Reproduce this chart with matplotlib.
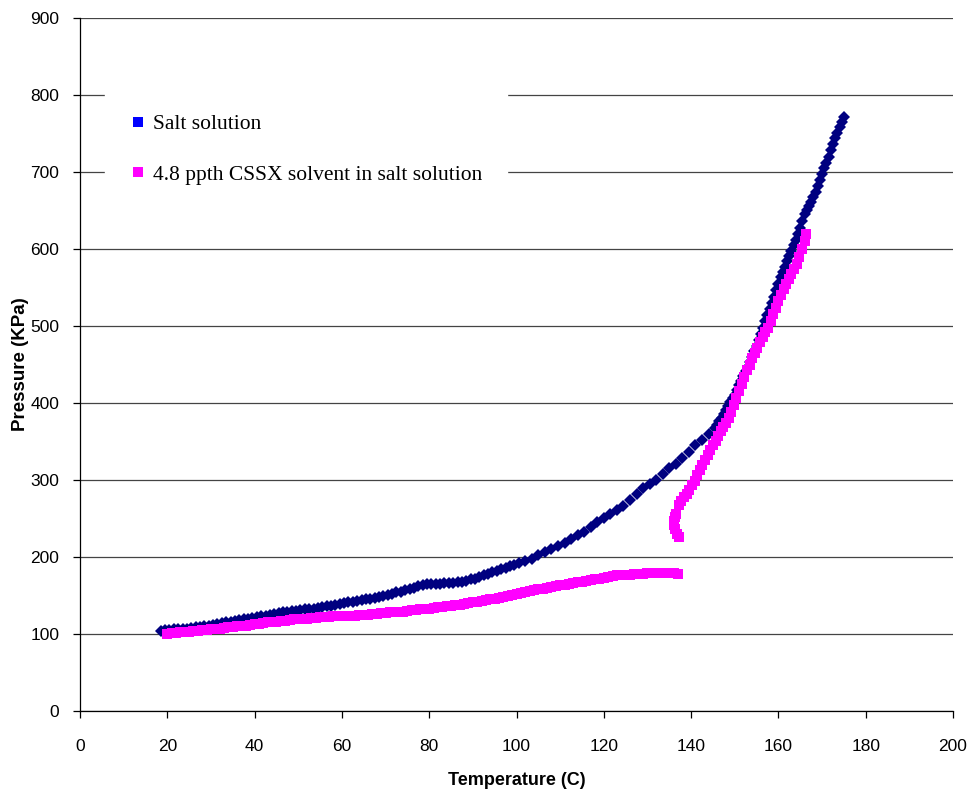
import matplotlib
matplotlib.use("Agg")
import matplotlib.pyplot as plt
from matplotlib.lines import Line2D

# ---- data ----
salt_T = [18.5, 19.5, 20.5, 21.5, 22.5, 23.5, 24.5, 25.5, 26.5, 27.5, 28.5, 29.5,
          30.5, 31.5, 32.5, 33.5, 34.5, 35.5, 36.5, 37.5, 38.5, 39.5, 40.5, 41.5,
          42.5, 43.5, 44.5, 45.5, 46.5, 47.5, 48.5, 49.5, 50.5, 51.5, 52.5, 53.5,
          54.5, 55.5, 56.5, 57.5, 58.5, 59.5, 60.5, 61.5, 62.5, 63.5, 64.5, 65.5,
          66.5, 67.5, 68.5, 69.5, 70.5, 71.5, 72.5, 73.5, 74.5, 75.5, 76.5, 77.5,
          78.5, 79.5, 80.5, 81.5, 82.5, 83.5, 84.5, 85.5, 86.5, 87.5, 88.5, 89.5,
          90.5, 91.5, 92.5, 93.5, 94.5, 95.5, 96.5, 97.5, 98.5, 99.5,
          100.5, 102, 103.5, 105, 106.5, 108, 109.5, 111, 112.5, 114, 115.5, 117,
          118.5, 120, 121.5, 123, 124.5, 126, 127.5, 129, 130.5, 132, 133.5, 135,
          136.5, 138, 139.5, 141, 142.5, 144, 145.5,
          146, 146.5, 147, 147.5, 148, 148.5, 149, 149.5, 150, 150.5, 151, 151.5,
          152, 152.5, 153, 153.5, 154, 154.5, 155, 155.5, 156, 156.5, 157, 157.5,
          158, 158.5, 159, 159.5, 160, 160.5, 161, 161.5, 162, 162.5, 163, 163.5,
          164, 164.5, 165, 165.5, 166, 166.5, 167, 167.5, 168, 168.5, 169, 169.5,
          170, 170.5, 171, 171.5, 172, 172.5, 173, 173.5, 174, 174.5, 175]
salt_P = [104, 105, 105, 106, 106, 107, 107, 108, 109, 109, 110, 111,
          112, 113, 114, 115, 116, 117, 118, 119, 120, 121, 122, 123,
          124, 125, 126, 127, 128, 129, 130, 130, 131, 132, 133, 133,
          134, 135, 136, 137, 138, 139, 140, 141, 142, 143, 144, 145,
          146, 147, 148, 150, 151, 152, 154, 155, 157, 158, 160, 162,
          164, 165, 165, 165, 165, 166, 166, 166, 167, 168, 169, 171,
          172, 174, 176, 178, 180, 182, 184, 186, 188, 190,
          192, 195, 198, 202, 206, 210, 214, 218, 223, 228, 233, 239,
          245, 251, 256, 261, 266, 274, 282, 290, 295, 300, 308, 316,
          321, 328, 337, 345, 352, 360, 368,
          372, 376, 381, 386, 391, 396, 401, 406, 411, 417, 423, 429,
          435, 441, 447, 453, 460, 467, 474, 482, 490, 498, 506, 514,
          522, 530, 538, 547, 555, 563, 570, 577, 584, 591, 598, 605,
          612, 619, 627, 636, 645, 651, 656, 661, 667, 674, 682, 690,
          698, 705, 712, 720, 728, 736, 744, 751, 758, 765, 771]

cssx_T = [20, 21, 22, 23, 24, 25, 26, 27, 28, 29, 30, 31, 32, 33, 34, 35, 36, 37,
          38, 39, 40, 41, 42, 43, 44, 45, 46, 47, 48, 49, 50, 51, 52, 53, 54, 55,
          56, 57, 58, 59, 60, 61, 62, 63, 64, 65, 66, 67, 68, 69, 70, 71, 72, 73,
          74, 75, 76, 77, 78, 79, 80, 81, 82, 83, 84, 85, 86, 87, 88, 89, 90, 91,
          92, 93, 94, 95, 96, 97, 98, 99, 100, 101, 102, 103, 104, 105, 106, 107,
          108, 109, 110, 111, 112, 113, 114, 115, 116, 117, 118, 119, 120, 121,
          122, 123, 124, 125, 126, 127, 128, 129, 130, 131, 132, 133, 134, 135,
          136, 137,
          137.2, 136.8, 136.4, 136.1, 136.0, 136.2, 136.5, 137.3, 137.8, 138.4,
          139.0, 139.6, 140.2, 140.8, 141.4, 142.0, 142.6, 143.2, 143.8, 144.4,
          145.0, 145.6, 146.2, 146.8, 147.4, 148.0, 148.6, 149.2, 149.8, 150.4,
          151.0, 151.6, 152.2, 152.8, 153.4, 154.0, 154.6, 155.2, 155.8, 156.4,
          157.0, 157.6, 158.2, 158.8, 159.4, 160.0, 160.6, 161.2, 161.8, 162.4,
          163.0, 163.6, 164.2, 164.8, 165.4, 166.0, 166.3]
cssx_P = [100, 101, 101, 102, 102, 103, 104, 104, 105, 105, 106, 107, 107, 108,
          109, 109, 110, 111, 111, 112, 113, 113, 114, 115, 115, 116, 117, 117,
          118, 119, 119, 120, 120, 121, 121, 122, 122, 122, 123, 123, 123, 124,
          124, 124, 125, 125, 125, 126, 126, 127, 127, 128, 128, 129, 129, 130,
          131, 131, 132, 133, 133, 134, 135, 135, 136, 137, 138, 138, 139, 140,
          141, 142, 143, 144, 145, 146, 147, 148, 149, 151, 152, 153, 155, 156,
          157, 158, 159, 160, 161, 162, 163, 164, 165, 166, 167, 168, 169, 170,
          171, 172, 173, 174, 175, 176, 176, 177, 177, 178, 178, 178, 179, 179,
          179, 179, 179, 179, 179, 178,
          226, 230, 236, 242, 247, 252, 256, 268, 273, 278,
          282, 287, 293, 299, 306, 313, 320, 326, 333, 339,
          345, 351, 357, 363, 369, 374, 380, 388, 398, 407,
          416, 425, 434, 443, 450, 458, 465, 472, 479, 486,
          492, 498, 506, 515, 524, 533, 540, 548, 555, 561,
          567, 574, 581, 590, 600, 610, 619]

series_labels = ["Salt solution", "4.8 ppth CSSX solvent in salt solution"]
x_ticks = [0, 20, 40, 60, 80, 100, 120, 140, 160, 180, 200]
y_ticks = [0, 100, 200, 300, 400, 500, 600, 700, 800, 900]

# ---- figure ----
fig = plt.figure(figsize=(9.69, 7.91), dpi=100)
ax = fig.add_axes([80 / 969, 80 / 791, 873 / 969, 693 / 791])

ax.plot(salt_T, salt_P, linestyle="none", marker="D", markersize=6.3,
        color="#000080", markeredgewidth=0, zorder=3)
ax.plot(cssx_T, cssx_P, linestyle="none", marker="s", markersize=7.4,
        color="#FF00FF", markeredgewidth=0, zorder=4)

ax.set_xlim(0, 200)
ax.set_ylim(0, 900)
ax.set_xticks(x_ticks)
ax.set_yticks(y_ticks)
ax.yaxis.grid(True, color="#444444", linewidth=0.9)
ax.set_axisbelow(True)
for s in ("top", "right"):
    ax.spines[s].set_visible(False)
for s in ("left", "bottom"):
    ax.spines[s].set_color("black")
    ax.spines[s].set_linewidth(0.9)

ax.tick_params(axis="both", direction="out", length=5, width=0.9,
               labelsize=12.5, colors="black")
ax.tick_params(axis="x", pad=15)
ax.tick_params(axis="y", pad=10)
for lab in ax.get_xticklabels() + ax.get_yticklabels():
    lab.set_family("Liberation Sans")

ax.set_xlabel("Temperature (C)", family="Liberation Sans", fontsize=13,
              fontweight="bold", labelpad=13)
ax.set_ylabel("Pressure (KPa)", family="Liberation Sans", fontsize=13.5,
              fontweight="bold", labelpad=1)

handles = [Line2D([], [], linestyle="none", marker="s", markersize=7.5,
                  color="#0000FF", markeredgewidth=0),
           Line2D([], [], linestyle="none", marker="s", markersize=7.5,
                  color="#FF00FF", markeredgewidth=0)]
leg = ax.legend(handles, series_labels, loc="upper left",
                bbox_to_anchor=(0.0286, 0.897), frameon=True, fancybox=False,
                prop={"family": "Liberation Serif", "size": 15.5},
                labelspacing=1.42, handlelength=0.8, handletextpad=0.3,
                borderpad=1.15, borderaxespad=0)
leg.get_frame().set_facecolor("white")
leg.get_frame().set_edgecolor("white")
leg.get_frame().set_alpha(1)
leg.set_zorder(5)

fig.savefig("out.png", dpi=100, facecolor="white")
